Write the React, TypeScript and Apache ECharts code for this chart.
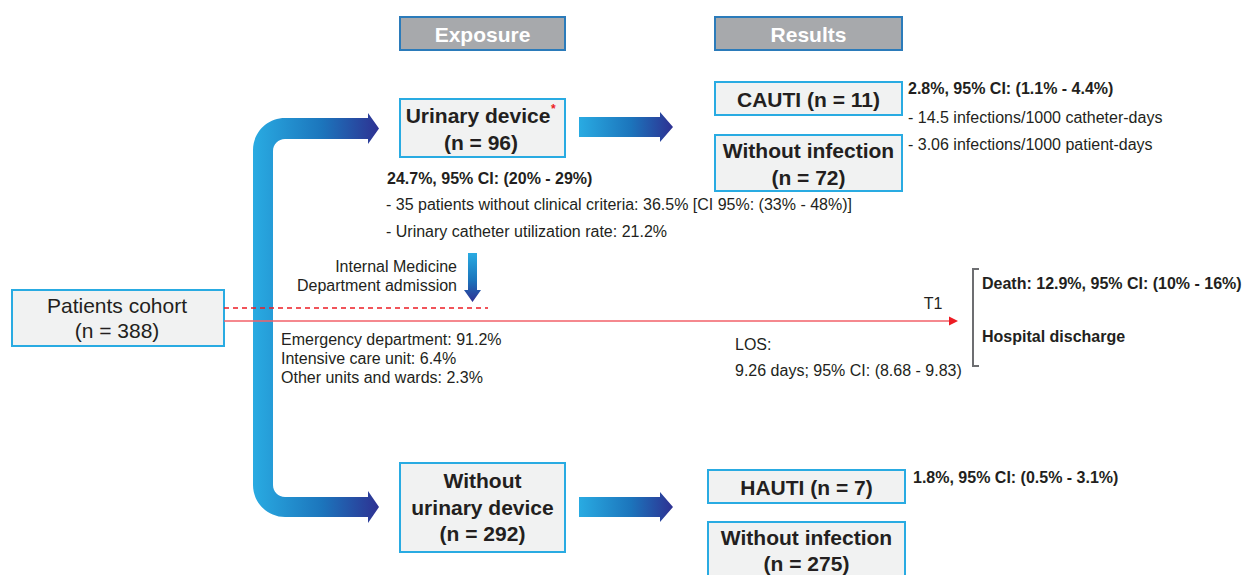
import React, { useEffect, useRef } from "react";
import * as echarts from "echarts";

// ---- Diagram content (data) ----
const headers = ["Exposure", "Results"];
const cohortLabel = ["Patients cohort", "(n = 388)"];
const urinaryLabel = ["Urinary device", "(n = 96)"];
const noUrinaryLabel = ["Without", "urinary device", "(n = 292)"];
const cautiLabel = ["CAUTI (n = 11)"];
const topNoInfLabel = ["Without infection", "(n = 72)"];
const hautiLabel = ["HAUTI (n = 7)"];
const bottomNoInfLabel = ["Without infection", "(n = 275)"];
const cautiStats = [
  "2.8%, 95% CI: (1.1% - 4.4%)",
  "- 14.5 infections/1000 catheter-days",
  "- 3.06 infections/1000 patient-days",
];
const urinaryStats = [
  "24.7%, 95% CI: (20% - 29%)",
  "- 35 patients without clinical criteria: 36.5% [CI 95%: (33% - 48%)]",
  "- Urinary catheter utilization rate: 21.2%",
];
const admissionLabel = ["Internal Medicine", "Department admission"];
const originUnits = [
  "Emergency department: 91.2%",
  "Intensive care unit: 6.4%",
  "Other units and wards: 2.3%",
];
const losLabel = ["LOS:", "9.26 days; 95% CI: (8.68 - 9.83)"];
const outcomes = ["Death: 12.9%, 95% CI: (10% - 16%)", "Hospital discharge"];
const hautiStats = ["1.8%, 95% CI: (0.5% - 3.1%)"];
const timeLabel = "T1";

// ---- Styles ----
const FONT = '"Liberation Sans", Arial, Helvetica, sans-serif';
const TEXT = "#231f20";
const BOX_FILL = "#f1f2f2";
const BOX_STROKE = "#29abe2";
const HEAD_FILL = "#a7a9ac";
const HEAD_STROKE = "#2b7bba";
const RED = "#ed1c24";
const SMALL = 16;

const K = 0.5523;
function lArrowPath(): string {
  const xl = 253, xr = 273; // vertical bar
  const tTop = 118, tBot = 139; // top arm
  const bTop = 497, bBot = 517; // bottom arm
  const headBase = 368, tip = 379;
  const R = 32, r = 12;
  const p: string[] = [];
  p.push(`M ${xl} ${tTop + R}`);
  p.push(`C ${xl} ${tTop + R - R * K} ${xl + R - R * K} ${tTop} ${xl + R} ${tTop}`);
  p.push(`L ${headBase} ${tTop}`);
  p.push(`L ${headBase} ${tTop - 5}`);
  p.push(`L ${tip} ${(tTop + tBot) / 2}`);
  p.push(`L ${headBase} ${tBot + 5}`);
  p.push(`L ${headBase} ${tBot}`);
  p.push(`L ${xr + r} ${tBot}`);
  p.push(`C ${xr + r - r * K} ${tBot} ${xr} ${tBot + r - r * K} ${xr} ${tBot + r}`);
  p.push(`L ${xr} ${bTop - r}`);
  p.push(`C ${xr} ${bTop - r + r * K} ${xr + r - r * K} ${bTop} ${xr + r} ${bTop}`);
  p.push(`L ${headBase} ${bTop}`);
  p.push(`L ${headBase} ${bTop - 6}`);
  p.push(`L ${tip} ${(bTop + bBot) / 2}`);
  p.push(`L ${headBase} ${bBot + 6}`);
  p.push(`L ${headBase} ${bBot}`);
  p.push(`L ${xl + R} ${bBot}`);
  p.push(`C ${xl + R - R * K} ${bBot} ${xl} ${bBot - R + R * K} ${xl} ${bBot - R}`);
  p.push("Z");
  return p.join(" ");
}

echarts.graphic.registerShape("lArrow", (echarts.graphic as any).extendPath(lArrowPath(), {}));

const hGrad = () => ({
  type: "linear",
  x: 0, y: 0, x2: 1, y2: 0,
  colorStops: [
    { offset: 0, color: "#29abe2" },
    { offset: 0.55, color: "#1c75bc" },
    { offset: 1, color: "#2e3192" },
  ],
});
const vGrad = () => ({
  type: "linear",
  x: 0, y: 0, x2: 0, y2: 1,
  colorStops: [
    { offset: 0, color: "#29abe2" },
    { offset: 0.55, color: "#1c75bc" },
    { offset: 1, color: "#2e3192" },
  ],
});

function txt(text: string, x: number, y: number, size: number, weight: string, align = "left", fill = TEXT, z = 10) {
  return {
    type: "text",
    z,
    style: {
      text, x, y, fill,
      font: `${weight} ${size}px ${FONT}`,
      align, verticalAlign: "middle",
      textAlign: align, textVerticalAlign: "middle",
    },
  };
}

function box(x: number, y: number, w: number, h: number, fill = BOX_FILL, stroke = BOX_STROKE) {
  return { type: "rect", z: 5, shape: { x, y, width: w, height: h }, style: { fill, stroke, lineWidth: 2 } };
}

function lines(labels: string[], cx: number, ys: number[], size: number, weight: string, align = "center", fill = TEXT) {
  return labels.map((l, i) => txt(l, cx, ys[i], size, weight, align, fill));
}

function rightArrow(x0: number, yMid: number) {
  const bh = 10, hh = 15, base = x0 + 81, tip = x0 + 94;
  return {
    type: "polygon",
    z: 3,
    shape: {
      points: [
        [x0, yMid - bh], [base, yMid - bh], [base, yMid - hh], [tip, yMid],
        [base, yMid + hh], [base, yMid + bh], [x0, yMid + bh],
      ],
    },
    style: { fill: hGrad() },
  };
}

export default function App() {
  const ref = useRef<HTMLDivElement>(null);
  useEffect(() => {
    if (!ref.current) return;
    const chart = echarts.init(ref.current, null, { renderer: "svg" });
    const elements: any[] = [
      // Big L arrow
      { type: "lArrow", z: 2, x: 0, y: 0, style: { fill: hGrad() } },
      rightArrow(579, 127),
      rightArrow(579, 507),
      // Down arrow
      {
        type: "polygon",
        z: 3,
        shape: {
          points: [[468, 253], [477, 253], [477, 290], [481, 290], [472.5, 302], [464, 290], [468, 290]],
        },
        style: { fill: vGrad() },
      },
      // Headers
      box(400, 17, 165, 33, HEAD_FILL, HEAD_STROKE),
      txt(headers[0], 482.5, 34, 21, "bold", "center", "#ffffff"),
      box(715, 17, 187, 33, HEAD_FILL, HEAD_STROKE),
      txt(headers[1], 808.5, 34, 21, "bold", "center", "#ffffff"),
      // Cohort
      box(12, 290, 212, 56),
      ...lines(cohortLabel, 117, [305, 330], 21, "normal"),
      // Urinary device
      box(400, 99, 165, 58),
      txt(urinaryLabel[0], 478, 115, 21, "bold", "center"),
      txt("*", 551, 109, 12, "bold", "left", RED),
      txt(urinaryLabel[1], 481, 142, 21, "bold", "center"),
      // Without urinary device
      box(400, 463, 165, 89),
      ...lines(noUrinaryLabel, 482.5, [480, 507, 533], 21, "bold"),
      // Results top
      box(715, 82, 187, 33),
      ...lines(cautiLabel, 808.5, [99], 21, "bold"),
      box(715, 135, 187, 56),
      ...lines(topNoInfLabel, 808.5, [150, 177], 21, "bold"),
      // Results bottom
      box(708, 470, 197, 33),
      ...lines(hautiLabel, 806.5, [487], 21, "bold"),
      box(708, 522, 197, 70),
      ...lines(bottomNoInfLabel, 806.5, [537, 563], 21, "bold"),
      // Side stats
      txt(cautiStats[0], 908, 88, 16, "bold"),
      txt(cautiStats[1], 908, 117, SMALL, "normal"),
      txt(cautiStats[2], 908, 144, SMALL, "normal"),
      txt(urinaryStats[0], 387, 178, 16, "bold"),
      txt(urinaryStats[1], 386, 204, SMALL, "normal"),
      txt(urinaryStats[2], 386, 231, SMALL, "normal"),
      txt(hautiStats[0], 913, 477, 16, "bold"),
      ...lines(admissionLabel, 457, [266, 285], SMALL, "normal", "right"),
      ...lines(originUnits, 281, [339, 358, 377], SMALL, "normal", "left"),
      txt(timeLabel, 933, 303, SMALL, "normal", "center"),
      ...lines(losLabel, 735, [344, 370], SMALL, "normal", "left"),
      txt(outcomes[0], 982, 283, 16, "bold"),
      txt(outcomes[1], 982, 336, 16, "bold"),
      // Red timeline
      {
        type: "line", z: 6,
        shape: { x1: 224, y1: 308, x2: 488, y2: 308 },
        style: { stroke: RED, lineWidth: 1.5, lineDash: [5, 4] },
      },
      {
        type: "line", z: 6,
        shape: { x1: 224, y1: 321, x2: 950, y2: 321 },
        style: { stroke: "#f26168", lineWidth: 1.5 },
      },
      {
        type: "polygon", z: 6,
        shape: { points: [[949, 316.5], [958, 321], [949, 325.5]] },
        style: { fill: RED },
      },
      // Bracket
      {
        type: "polyline", z: 6,
        shape: { points: [[979, 269], [973, 269], [973, 366], [979, 366]] },
        style: { stroke: "#6d6e71", lineWidth: 2, fill: null },
      },
    ];
    chart.setOption({ animation: false, graphic: { elements } });
    return () => chart.dispose();
  }, []);
  return (
    <div
      ref={ref}
      style={{ position: "absolute", left: 0, top: 0, width: 1243, height: 575, background: "#ffffff" }}
    />
  );
}
